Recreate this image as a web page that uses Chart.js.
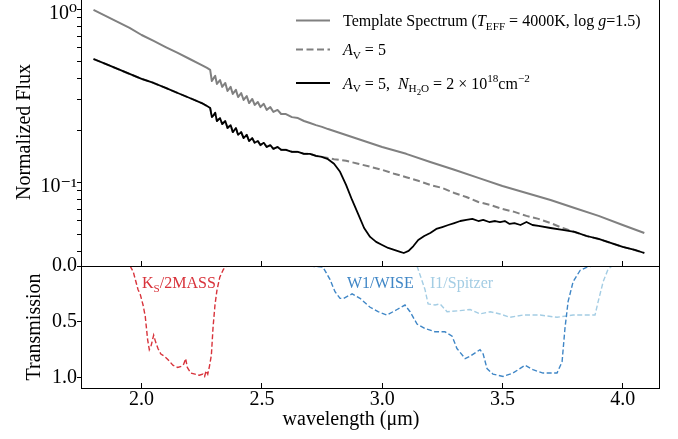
<!DOCTYPE html>
<html>
<head>
<meta charset="utf-8">
<script src="https://cdn.jsdelivr.net/npm/chart.js@4.4.1/dist/chart.umd.min.js"></script>
<style>
  html, body { margin: 0; padding: 0; background: #fff; }
  body { width: 678px; height: 439px; position: relative; overflow: hidden; }
  #fluxChart { position: absolute; left: 0; top: -4px; }
  #transChart { position: absolute; left: 0; top: 246px; }
  #xTitle { position: absolute; left: 201px; top: 408px; width: 300px; text-align: center;
            font: 20px/20px 'Liberation Serif', 'DejaVu Serif', serif; color: #000; }
</style>
</head>
<body>
<canvas id="fluxChart" width="678" height="272"></canvas>
<canvas id="transChart" width="678" height="193"></canvas>
<div id="xTitle">wavelength (μm)</div>
<script>
// ---- axis ticks ----
const waveTicks = [2.0, 2.5, 3.0, 3.5, 4.0];
const fluxTicks = [0.04, 0.05, 0.06, 0.07, 0.08, 0.09, 0.1, 0.2, 0.3, 0.4, 0.5, 0.6, 0.7, 0.8, 0.9, 1];
const fluxLabelTicks = [0.1, 1];
const fluxLabels = ['10⁻¹', '10⁰'];
const transTicks = [0, 0.5, 1.0];

// ---- top panel: spectra ----
const templateWave = [1.80, 1.85, 1.90, 1.95, 2.00, 2.05, 2.10, 2.15, 2.20, 2.25, 2.272, 2.285,
  2.292, 2.300, 2.306, 2.313, 2.326, 2.335, 2.348, 2.357, 2.370, 2.379, 2.392, 2.401, 2.414, 2.424,
  2.437, 2.447, 2.460, 2.470, 2.483, 2.494, 2.508, 2.520, 2.535, 2.548, 2.565, 2.580,
  2.600, 2.625, 2.650, 2.675, 2.700, 2.725, 2.750, 2.775, 2.80,
  2.90, 3.00, 3.10, 3.20, 3.30, 3.40, 3.50, 3.60, 3.70, 3.80, 3.90, 4.00, 4.09];
const templateFlux = [0.991, 0.915, 0.845, 0.780, 0.710, 0.656, 0.605, 0.559, 0.516, 0.476, 0.458, 0.446,
  0.385, 0.401, 0.412, 0.370, 0.390, 0.356, 0.375, 0.337, 0.356, 0.324, 0.342, 0.311, 0.328, 0.299,
  0.315, 0.287, 0.303, 0.280, 0.291, 0.272, 0.284, 0.262, 0.272, 0.255, 0.262, 0.248,
  0.248, 0.238, 0.235, 0.226, 0.220, 0.214, 0.209, 0.203, 0.198,
  0.178, 0.160, 0.146, 0.131, 0.118, 0.106, 0.0952, 0.0867, 0.0790, 0.0710, 0.0639, 0.0566, 0.0509];

const extWave = [1.80, 1.85, 1.90, 1.95, 2.00, 2.05, 2.10, 2.15, 2.20, 2.25, 2.272, 2.285,
  2.292, 2.300, 2.306, 2.313, 2.326, 2.335, 2.348, 2.357, 2.370, 2.379, 2.392, 2.401, 2.414, 2.424,
  2.437, 2.447, 2.460, 2.470, 2.483, 2.494, 2.508, 2.520, 2.535, 2.548, 2.565, 2.580,
  2.600, 2.625, 2.650, 2.675, 2.700, 2.725, 2.750, 2.775, 2.80,
  2.85, 2.90, 2.95, 3.00, 3.05, 3.10, 3.15, 3.20, 3.25, 3.30, 3.35, 3.40, 3.45, 3.50,
  3.55, 3.60, 3.65, 3.70, 3.75, 3.80, 3.85, 3.90, 3.95, 4.00, 4.05, 4.09];
const extFlux = [0.516, 0.483, 0.452, 0.423, 0.396, 0.375, 0.351, 0.328, 0.307, 0.287, 0.276, 0.269,
  0.238, 0.245, 0.252, 0.226, 0.235, 0.217, 0.226, 0.206, 0.214, 0.195, 0.206, 0.188, 0.195, 0.180,
  0.188, 0.173, 0.180, 0.169, 0.173, 0.164, 0.169, 0.160, 0.164, 0.156, 0.160, 0.154,
  0.154, 0.150, 0.150, 0.146, 0.146, 0.142, 0.140, 0.138, 0.136,
  0.133, 0.128, 0.123, 0.118, 0.112, 0.107, 0.102, 0.0965, 0.0927, 0.0867, 0.0822, 0.0769, 0.0739, 0.0701,
  0.0674, 0.0639, 0.0614, 0.0581, 0.0544, 0.0516, 0.0489, 0.0470, 0.0446, 0.0423, 0.0406, 0.0390];

// water ice curve equals the A_V=5 curve up to 2.75 um
const waterWave = extWave.slice(0, 45).concat([2.775, 2.80, 2.825, 2.85, 2.875, 2.90, 2.925, 2.95, 2.975, 3.00,
  3.025, 3.05, 3.075, 3.09, 3.11, 3.13, 3.15, 3.175, 3.20, 3.225, 3.25, 3.275, 3.30, 3.325, 3.35, 3.375,
  3.40, 3.42, 3.445, 3.47, 3.49, 3.51, 3.53, 3.55, 3.575, 3.60, 3.625, 3.65, 3.70, 3.75,
  3.80, 3.85, 3.90, 3.95, 4.00, 4.05, 4.09]);
const waterFlux = extFlux.slice(0, 45).concat([0.136, 0.128, 0.115, 0.0965, 0.0790, 0.0656, 0.0544, 0.0483, 0.0452, 0.0434,
  0.0417, 0.0406, 0.0396, 0.0390, 0.0401, 0.0428, 0.0464, 0.0489, 0.0509, 0.0537, 0.0551, 0.0566, 0.0581, 0.0597, 0.0606, 0.0614,
  0.0597, 0.0606, 0.0589, 0.0597, 0.0589, 0.0597, 0.0574, 0.0581, 0.0566, 0.0589, 0.0566, 0.0559, 0.0544, 0.0530,
  0.0516, 0.0489, 0.0470, 0.0446, 0.0423, 0.0406, 0.0390]);

// ---- bottom panel: filter transmission ----
const ksWave = [1.952, 1.965, 1.975, 1.985, 1.995, 2.006, 2.015, 2.025, 2.032, 2.040, 2.050, 2.058, 2.068,
  2.080, 2.095, 2.110, 2.130, 2.150, 2.165, 2.175, 2.183, 2.190, 2.205, 2.222, 2.240, 2.255, 2.262,
  2.268, 2.275, 2.282, 2.290, 2.297, 2.305, 2.313, 2.325, 2.340, 2.355];
const ksTrans = [0, 0.05, 0.13, 0.21, 0.26, 0.35, 0.45, 0.66, 0.75, 0.71, 0.62, 0.68, 0.74,
  0.79, 0.81, 0.84, 0.89, 0.91, 0.90, 0.88, 0.83, 0.91, 0.96, 0.97, 0.98, 0.97, 0.99,
  0.94, 0.97, 0.90, 0.80, 0.55, 0.35, 0.22, 0.10, 0.03, 0];

const w1Wave = [2.700, 2.754, 2.783, 2.804, 2.825, 2.840, 2.875, 2.908, 2.950, 2.983, 3.020, 3.062, 3.095,
  3.116, 3.145, 3.178, 3.220, 3.261, 3.291, 3.311, 3.345, 3.365, 3.407, 3.420, 3.436, 3.461, 3.503,
  3.544, 3.594, 3.627, 3.669, 3.727, 3.748, 3.760, 3.773, 3.794, 3.823, 3.852, 3.877];
const w1Trans = [0, 0.01, 0.12, 0.23, 0.29, 0.29, 0.25, 0.29, 0.37, 0.41, 0.44, 0.39, 0.35,
  0.41, 0.52, 0.56, 0.59, 0.59, 0.63, 0.74, 0.83, 0.81, 0.75, 0.79, 0.92, 0.97, 0.99,
  0.96, 0.89, 0.93, 0.96, 0.96, 0.86, 0.56, 0.32, 0.14, 0.04, 0.01, 0];

const i1Wave = [3.145, 3.178, 3.191, 3.220, 3.241, 3.270, 3.324, 3.366, 3.407, 3.449, 3.490, 3.532,
  3.586, 3.657, 3.727, 3.794, 3.852, 3.885, 3.898, 3.919, 3.939, 3.956];
const i1Trans = [0, 0.21, 0.34, 0.35, 0.34, 0.41, 0.40, 0.39, 0.43, 0.41, 0.43, 0.46,
  0.44, 0.44, 0.46, 0.44, 0.44, 0.44, 0.32, 0.14, 0.03, 0];

// ---- helpers ----
const serif = "'Liberation Serif', 'DejaVu Serif', serif";
Chart.defaults.font.family = serif;
Chart.defaults.color = '#000';
const tickFont = { family: serif, size: 20 };

const pairs = (xs, ys) => xs.map((x, i) => ({ x: x, y: ys[i] }));

// fixed axis boxes so both panels line up exactly
const fixWidth = s => { s.width = 81; s.paddingTop = 0; s.paddingBottom = 0; };
const fixHeight = h => s => { s.height = h; s.paddingLeft = 0; s.paddingRight = 0; };

// draws text made of pieces: italic, subscript, superscript
function drawRich(ctx, x, y, parts, size, color) {
  ctx.save();
  ctx.fillStyle = color;
  ctx.textAlign = 'left';
  ctx.textBaseline = 'alphabetic';
  for (const p of parts) {
    let fs = size, dy = 0;
    if (p.sub) { fs = size * 0.7; dy = size * 0.22; }
    if (p.sub2) { fs = size * 0.55; dy = size * 0.38; }
    if (p.sup) { fs = size * 0.7; dy = -size * 0.42; }
    ctx.font = (p.it ? 'italic ' : '') + fs + 'px ' + serif;
    ctx.fillText(p.t, x, y + dy);
    x += ctx.measureText(p.t).width;
  }
  ctx.restore();
}

// black box round the plot area
const framePlugin = {
  id: 'frame',
  afterDatasetsDraw(chart) {
    const { ctx, chartArea: a } = chart;
    ctx.save();
    ctx.strokeStyle = '#000';
    ctx.lineWidth = 1;
    ctx.strokeRect(a.left + 0.5, a.top + 0.5, a.right - a.left, a.bottom - a.top);
    ctx.restore();
  }
};

const legendPlugin = {
  id: 'specLegend',
  afterDraw(chart) {
    const ctx = chart.ctx;
    const oy = 4; // canvas is shifted up by 4px
    const rows = [
      { y: 20.5, dash: [], color: '#808080',
        text: [{ t: 'Template Spectrum (' }, { t: 'T', it: 1 }, { t: 'EFF', sub: 1 }, { t: ' = 4000K, log ' },
               { t: 'g', it: 1 }, { t: '=1.5)' }] },
      { y: 49.5, dash: [7, 3.5], color: '#808080',
        text: [{ t: 'A', it: 1 }, { t: 'V', sub: 1 }, { t: ' = 5' }] },
      { y: 83, dash: [], color: '#000',
        text: [{ t: 'A', it: 1 }, { t: 'V', sub: 1 }, { t: ' = 5,  ' }, { t: 'N', it: 1 }, { t: 'H', sub: 1 },
               { t: '2', sub2: 1 }, { t: 'O', sub: 1 }, { t: ' = 2 × 10' }, { t: '18', sup: 1 }, { t: 'cm' },
               { t: '−2', sup: 1 }] }
    ];
    for (const r of rows) {
      ctx.save();
      ctx.strokeStyle = r.color;
      ctx.lineWidth = 2;
      ctx.setLineDash(r.dash);
      ctx.beginPath();
      ctx.moveTo(296, r.y + oy);
      ctx.lineTo(330, r.y + oy);
      ctx.stroke();
      ctx.restore();
      drawRich(ctx, 343, r.y + oy + 5.5, r.text, 16, '#000');
    }
  }
};

const filterLabelPlugin = {
  id: 'filterLabels',
  afterDraw(chart) {
    const ctx = chart.ctx;
    const base = 42; // canvas starts at page y 246
    drawRich(ctx, 142, base, [{ t: 'K' }, { t: 'S', sub: 1 }, { t: '/2MASS' }], 16, '#d8333b');
    drawRich(ctx, 347, base, [{ t: 'W1/WISE' }], 16, '#3f86c6');
    drawRich(ctx, 430, base, [{ t: 'I1/Spitzer' }], 16, '#a4cde4');
  }
};

// ---- top chart ----
new Chart(document.getElementById('fluxChart'), {
  type: 'line',
  data: {
    datasets: [
      { label: 'Template Spectrum', data: pairs(templateWave, templateFlux), borderColor: '#808080', borderWidth: 2, order: 2 },
      { label: 'A_V=5', data: pairs(extWave, extFlux), borderColor: '#808080', borderWidth: 2, borderDash: [7, 3.5], order: 1 },
      { label: 'A_V=5, N_H2O', data: pairs(waterWave, waterFlux), borderColor: '#000', borderWidth: 1.8, order: 0 }
    ]
  },
  options: {
    responsive: false,
    animation: false,
    layout: { padding: { top: 2, right: 19, left: 0, bottom: 0 } },
    elements: { point: { radius: 0 }, line: { tension: 0, borderJoinStyle: 'round' } },
    plugins: { legend: { display: false }, tooltip: { enabled: false } },
    scales: {
      x: {
        type: 'linear', min: 1.748, max: 4.151,
        afterBuildTicks: s => { s.ticks = waveTicks.map(v => ({ value: v })); },
        afterFit: fixHeight(2),
        ticks: { display: false },
        grid: { drawOnChartArea: false, tickLength: -5, color: '#000' },
        border: { display: false }
      },
      y: {
        type: 'logarithmic', min: 0.0328, max: 1.162,
        afterBuildTicks: s => { s.ticks = fluxTicks.map(v => ({ value: v })); },
        afterFit: fixWidth,
        ticks: {
          font: tickFont, padding: 0, autoSkip: false, labelOffset: 4,
          callback: v => { const i = fluxLabelTicks.indexOf(v); return i >= 0 ? fluxLabels[i] : ''; }
        },
        grid: { drawOnChartArea: false, tickLength: 4, color: '#000' },
        border: { display: false },
        title: { display: true, text: 'Normalized Flux', font: { family: serif, size: 20 }, padding: { top: 13 } }
      }
    }
  },
  plugins: [framePlugin, legendPlugin]
});

// ---- bottom chart ----
const dashed = [5, 2.5];
new Chart(document.getElementById('transChart'), {
  type: 'line',
  data: {
    datasets: [
      { label: 'Ks/2MASS', data: pairs(ksWave, ksTrans), borderColor: '#d8333b', borderWidth: 1.4, borderDash: dashed },
      { label: 'W1/WISE', data: pairs(w1Wave, w1Trans), borderColor: '#3f86c6', borderWidth: 1.4, borderDash: dashed },
      { label: 'I1/Spitzer', data: pairs(i1Wave, i1Trans), borderColor: '#a4cde4', borderWidth: 1.4, borderDash: dashed }
    ]
  },
  options: {
    responsive: false,
    animation: false,
    layout: { padding: { top: 20, right: 19, left: 0, bottom: 0 } },
    elements: { point: { radius: 0 }, line: { tension: 0 } },
    plugins: { legend: { display: false }, tooltip: { enabled: false } },
    scales: {
      x: {
        type: 'linear', min: 1.748, max: 4.151,
        afterBuildTicks: s => { s.ticks = waveTicks.map(v => ({ value: v })); },
        afterFit: fixHeight(51),
        ticks: { font: tickFont, padding: 5, autoSkip: false, maxRotation: 0, callback: v => v.toFixed(1) },
        grid: { drawOnChartArea: false, tickLength: -5, color: '#000' },
        border: { display: false }
      },
      y: {
        type: 'linear', reverse: true, min: 0, max: 1.094,
        afterBuildTicks: s => { s.ticks = transTicks.map(v => ({ value: v })); },
        afterFit: fixWidth,
        ticks: { font: tickFont, padding: 0, autoSkip: false, callback: v => v.toFixed(1) },
        grid: { drawOnChartArea: false, tickLength: 4, color: '#000' },
        border: { display: false },
        title: { display: true, text: 'Transmission', font: { family: serif, size: 20 }, padding: { top: 23 } }
      }
    }
  },
  plugins: [framePlugin, filterLabelPlugin]
});
</script>
</body>
</html>
